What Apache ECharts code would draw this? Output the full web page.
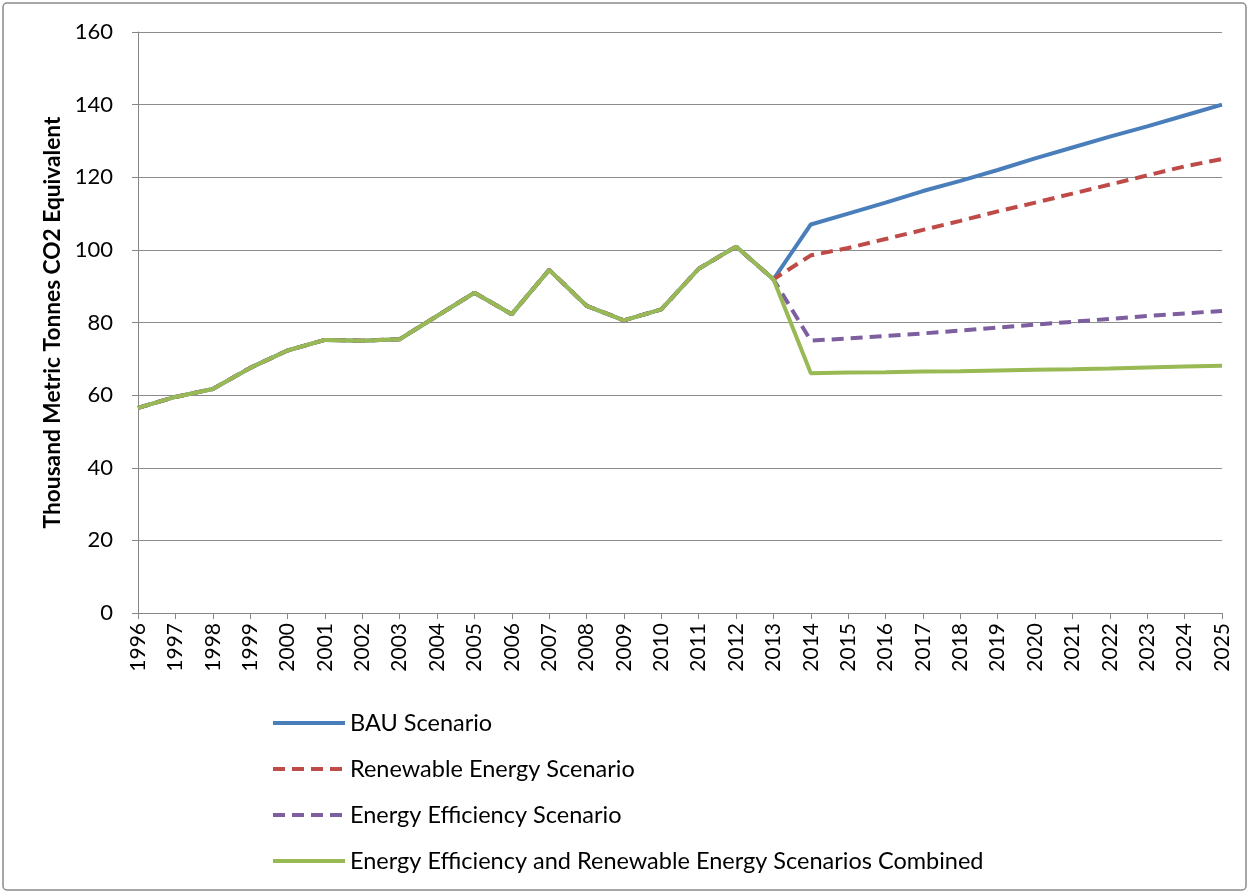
<!DOCTYPE html>
<html>
<head>
<meta charset="utf-8">
<script src="https://cdn.jsdelivr.net/npm/echarts@6/dist/echarts.min.js"></script>
<style>
  html, body { margin: 0; padding: 0; background: #fff; }
  #chart { width: 1250px; height: 894px; }
</style>
</head>
<body>
<div id="chart"></div>
<script>
var years = ['1996','1997','1998','1999','2000','2001','2002','2003','2004','2005',
             '2006','2007','2008','2009','2010','2011','2012','2013','2014','2015',
             '2016','2017','2018','2019','2020','2021','2022','2023','2024','2025'];

// shared by every scenario (1996-2013)
var pastValues = [56.5, 59.5, 61.7, 67.5, 72.3, 75.2, 75.0, 75.4, 81.8, 88.2,
                  82.3, 94.5, 84.6, 80.6, 83.6, 94.8, 100.9, 91.9];

// projections 2014-2025
var bau = [107, 110, 113, 116.2, 119, 122, 125.2, 128.2, 131.2, 134, 137, 140];
var renewable = [98.5, 100.5, 103, 105.5, 108, 110.6, 113, 115.5, 118, 120.5, 123, 125];
var efficiency = [75, 75.6, 76.3, 77, 77.8, 78.6, 79.4, 80.2, 81, 81.8, 82.5, 83.2];
var combined = [66, 66.2, 66.3, 66.5, 66.6, 66.8, 67, 67.1, 67.3, 67.6, 67.9, 68.1];

var yTicks = [0, 20, 40, 60, 80, 100, 120, 140, 160];

var names = ['BAU Scenario', 'Renewable Energy Scenario', 'Energy Efficiency Scenario',
             'Energy Efficiency and Renewable Energy Scenarios Combined'];
var colors = ['#4a7ebb', '#be4b48', '#7d5fa0', '#98b954'];
var dashes = ['solid', [12, 7], [12, 7], 'solid'];
var proj = [bau, renewable, efficiency, combined];

var fontFam = 'Lato, "Liberation Sans", sans-serif';

var series = [];
for (var i = 0; i < names.length; i++) {
    series.push({
        name: names[i],
        type: 'line',
        data: pastValues.concat(proj[i]),
        symbol: 'none',
        z: 2 + i,
        lineStyle: { color: colors[i], width: 4, type: dashes[i] },
        itemStyle: { color: colors[i] }
    });
}

var chart = echarts.init(document.getElementById('chart'));
var option = {
    animation: false,
    grid: { left: 138, right: 28, top: 32, bottom: 281 },
    graphic: [{
        type: 'rect',
        shape: { x: 3, y: 3, width: 1243, height: 887, r: 4 },
        style: { fill: 'none', stroke: '#8a8a8a', lineWidth: 1.5 },
        silent: true
    }],
    legend: {
        orient: 'vertical',
        left: 266,
        top: 706,
        itemWidth: 72,
        itemHeight: 14,
        itemGap: 22,
        itemStyle: { opacity: 0 },
        lineStyle: { width: 4 },
        textStyle: { fontFamily: fontFam, fontSize: 23.5, color: '#000' },
        data: names
    },
    xAxis: {
        type: 'category',
        data: years,
        boundaryGap: false,
        axisLine: { lineStyle: { color: '#868686', width: 1 } },
        axisTick: { show: true, length: 6, lineStyle: { color: '#868686' } },
        axisLabel: { rotate: 90, color: '#000', fontSize: 21, margin: 10, fontFamily: fontFam },
        splitLine: { show: false }
    },
    yAxis: {
        type: 'value',
        min: yTicks[0],
        max: yTicks[yTicks.length - 1],
        interval: 20,
        name: 'Thousand Metric Tonnes CO2 Equivalent',
        nameLocation: 'middle',
        nameGap: 73,
        nameTextStyle: { fontSize: 22.7, fontWeight: 'bold', color: '#000', fontFamily: fontFam },
        axisLine: { show: true, lineStyle: { color: '#868686', width: 1 } },
        axisTick: { show: true, length: 6, lineStyle: { color: '#868686' } },
        axisLabel: { color: '#000', fontSize: 22, margin: 25, fontFamily: fontFam },
        splitLine: { lineStyle: { color: '#8c8c8c', width: 1 } }
    },
    series: series
};
chart.setOption(option);
</script>
</body>
</html>
